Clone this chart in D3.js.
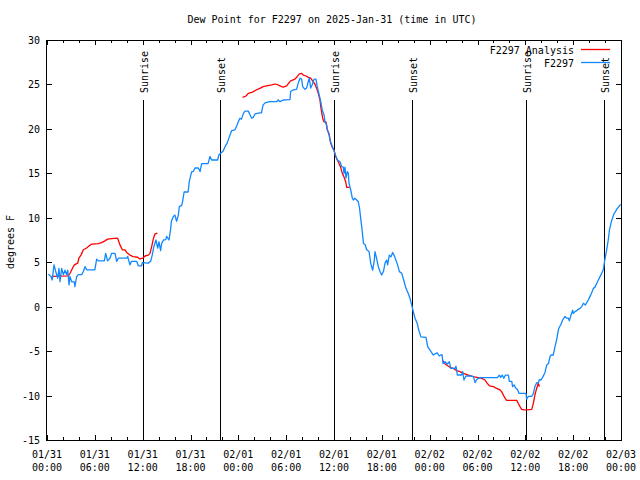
<!DOCTYPE html>
<html>
<head>
<meta charset="utf-8">
<script src="https://cdn.jsdelivr.net/npm/d3@7/dist/d3.min.js"></script>
<style>
  html, body { margin: 0; padding: 0; background: #fff; }
  svg { display: block; }
  text { font-family: "DejaVu Sans Mono", "Liberation Mono", monospace; font-size: 10px; fill: #000; }
</style>
</head>
<body>
<svg id="chart" width="640" height="480"></svg>
<script>
// ---- data (hours since 2025-01-31 00:00 UTC, dew point in degrees F) ----
const startTime = Date.UTC(2025, 0, 31, 0, 0);
const endHours = 72;

const stationHours = [0.17,0.5,0.65,0.88,1.1,1.34,1.5,1.63,1.84,2.05,2.26,2.47,2.6,2.76,2.88,3.09,3.43,3.5,3.72,3.93,4.35,4.56,4.77,4.98,6.0,6.23,6.44,7.19,7.36,7.6,7.9,8.1,8.53,8.74,8.95,10.0,10.12,10.4,10.6,11.25,11.45,11.87,11.95,12.7,13.0,13.2,13.4,13.67,13.88,14.05,14.25,14.38,14.6,14.9,15.0,15.3,15.5,15.6,15.85,16.05,16.26,16.47,16.6,16.9,17.0,17.2,17.7,17.85,18.15,18.35,18.56,18.98,19.2,19.4,20.2,20.45,20.65,21.4,21.57,21.9,22.1,22.33,22.6,22.87,23.16,23.58,23.79,24.0,24.2,24.4,24.63,24.84,25.25,25.46,25.67,25.88,26.1,26.7,26.9,27.1,27.4,27.97,28.8,29.0,29.23,29.64,30.48,30.56,30.9,31.3,31.5,31.73,31.94,32.07,32.36,32.57,32.7,32.9,33.07,33.28,33.5,33.74,33.9,34.1,34.33,34.53,34.74,34.87,35.08,35.16,35.37,35.5,35.7,35.9,36.04,36.25,36.42,36.75,36.96,37.17,37.25,37.38,37.5,37.67,37.8,37.88,38.1,38.3,38.43,38.6,38.84,39.05,39.2,39.35,39.5,39.7,39.9,40.1,40.4,40.6,40.85,41.06,41.14,41.35,41.56,41.77,41.98,42.2,42.4,42.6,42.73,42.94,43.15,43.36,43.53,43.7,43.98,44.2,44.5,44.8,45.03,45.3,45.53,45.74,45.95,46.16,46.45,46.62,46.9,47.54,47.75,48.04,48.46,48.79,48.96,49.2,49.4,49.55,49.68,49.92,50.2,50.47,50.64,51.18,51.3,51.47,52.0,52.14,52.3,52.56,53.15,53.48,53.7,53.9,54.3,56.5,56.74,56.9,57.1,57.3,57.5,57.87,58.0,58.3,58.4,58.6,58.7,58.83,59.0,59.2,60.08,60.17,60.38,60.8,61.0,61.2,61.42,61.63,61.76,61.97,62.2,62.47,62.68,62.9,63.1,63.22,63.5,63.72,63.93,64.14,64.27,64.43,64.68,64.97,65.18,65.4,65.52,65.73,65.94,66.02,66.23,66.44,66.65,66.86,67.07,67.28,67.53,67.7,67.9,68.1,68.3,68.53,68.74,68.95,69.16,69.37,69.58,69.8,69.9,70.08,70.2,70.4,70.55,70.8,71.1,71.5,71.95];
const stationValues = [3.65,3.4,3.0,4.7,3.95,3.2,4.3,2.8,4.3,3.6,4.1,3.6,4.1,2.45,3.4,2.8,2.8,2.25,3.4,3.6,3.6,3.95,4.5,4.15,4.15,5.35,5.15,5.15,6.0,5.15,5.45,6.0,6.0,5.1,5.45,5.45,5.65,4.7,5.1,5.1,4.6,4.6,4.95,4.9,5.1,5.8,6.75,7.5,6.6,7.3,6.3,7.1,7.5,7.55,7.9,7.5,8.65,9.6,10.15,10.3,9.6,10.3,11.25,11.4,11.8,12.9,12.9,14.1,15.2,15.2,15.6,15.6,15.2,16.1,16.1,16.9,16.5,16.5,17.1,17.35,17.5,18.0,18.4,19.1,19.8,19.9,20.33,20.8,21.2,21.1,21.75,22.0,22.0,21.6,21.2,21.3,21.7,21.8,21.8,22.7,22.95,23.06,23.06,23.25,23.06,23.25,23.3,24.2,24.4,24.45,25.1,25.7,25.6,24.75,24.45,24.6,25.1,25.7,24.6,25.0,25.6,25.6,24.75,24.0,23.1,22.1,21.6,20.8,20.4,19.9,19.5,18.75,18.2,17.8,17.44,16.9,16.5,16.3,15.75,15.7,15.0,15.7,14.45,15.2,15.0,13.9,13.1,12.2,12.0,12.2,12.0,11.8,11.1,9.94,8.8,7.1,7.0,6.4,6.2,4.9,4.1,5.25,6.2,5.4,4.5,3.95,3.56,3.95,4.9,5.25,4.7,5.8,5.6,6.1,5.8,5.4,4.7,3.94,3.75,2.8,2.06,1.5,0.94,0.2,-0.56,-1.3,-1.9,-2.6,-3.4,-3.45,-4.5,-4.9,-5.44,-5.25,-5.2,-5.55,-5.44,-5.4,-6.4,-6.2,-6.45,-6.2,-6.94,-6.94,-6.7,-7.69,-7.69,-7.3,-8.25,-7.8,-7.8,-7.87,-8.55,-8.2,-7.98,-7.98,-7.7,-7.95,-7.7,-8.06,-7.7,-7.7,-8.4,-8.4,-9.0,-8.8,-9.0,-9.2,-9.3,-9.75,-9.75,-10.4,-10.1,-10.1,-9.8,-9.0,-8.55,-8.6,-8.2,-8.25,-7.9,-7.4,-6.56,-6.4,-5.6,-5.44,-5.44,-4.5,-3.7,-2.6,-2.3,-2.06,-1.5,-1.1,-1.3,-1.3,-1.6,-0.94,-0.4,-0.75,-0.56,-0.45,-0.3,-0.19,0.0,0.38,0.19,0.45,0.75,1.13,1.5,2.06,2.2,2.6,3.0,3.38,3.75,4.2,4.9,5.8,6.4,7.5,8.6,9.6,10.4,11.0,11.5];

// analysis series: null marks a gap between runs
const analysisHours = [0.59,2.68,2.9,3.18,3.43,3.85,4.0,4.26,4.56,4.97,5.18,5.52,6.0,6.44,6.86,7.27,7.6,8.1,8.86,9.15,9.45,9.78,10.0,10.4,10.8,11.37,11.66,12.0,12.3,12.7,12.92,13.13,13.33,13.55,13.84,
  19.0,
  24.54,24.96,25.25,25.67,25.88,26.3,26.7,27.1,27.55,28.2,28.6,29.0,29.43,29.64,30.06,30.27,30.56,31.1,31.4,31.65,31.94,32.15,32.5,32.78,33.07,33.4,33.6,33.82,34.03,34.24,34.37,34.58,34.74,35.0,35.16,35.4,35.58,35.8,36.0,36.2,36.42,36.63,36.83,37.04,37.25,37.46,37.6,37.95,
  44.0,
  49.6,49.93,50.55,50.97,51.4,51.8,52.23,52.85,53.48,53.9,54.53,54.94,55.15,55.5,56.0,56.4,56.83,57.03,57.24,57.45,57.66,58.92,59.12,59.33,59.54,59.84,60.25,60.8,61.0,61.2,61.42,61.63,61.76];
const analysisValues = [3.4,3.46,3.76,4.3,4.7,4.9,5.45,5.8,6.4,6.6,6.76,7.0,7.06,7.1,7.2,7.4,7.6,7.66,7.7,6.95,6.4,6.4,6.1,5.8,5.64,5.56,5.37,5.45,5.7,5.8,6.0,6.76,7.6,8.2,8.26,
  null,
  23.55,23.7,24.0,24.1,24.19,24.4,24.56,24.75,24.83,24.94,25.05,24.94,24.75,24.7,24.83,25.1,25.4,25.6,25.9,26.2,26.25,26.06,25.95,25.8,25.7,25.3,25.05,24.56,24.0,23.25,22.3,21.2,20.8,20.8,19.9,19.3,18.4,17.9,17.6,16.9,16.5,16.1,15.7,15.0,14.6,14.06,13.43,13.43,
  null,
  -6.0,-6.45,-6.82,-6.94,-7.2,-7.3,-7.5,-7.69,-7.87,-7.95,-8.06,-8.25,-8.55,-8.9,-9.0,-9.2,-9.37,-9.56,-9.94,-10.3,-10.54,-10.54,-10.9,-11.25,-11.55,-11.6,-11.6,-11.55,-10.9,-9.94,-9.2,-8.6,-9.0];

const sunLabels = ["Sunrise","Sunset","Sunrise","Sunset","Sunrise","Sunset"];
const sunHours = [12.07, 21.75, 36.04, 45.82, 60.1, 69.9];

const yTicks = [-15,-10,-5,0,5,10,15,20,25,30];
const xMajorHours = [0,6,12,18,24,30,36,42,48,54,60,66,72];
const xMinorHours = [2,4,8,10,14,16,20,22,26,28,32,34,38,40,44,46,50,52,56,58,62,64,68,70];
const seriesNames = ["F2297 Analysis", "F2297"];
const seriesColors = ["#ff0000", "#1188ff"];
const titleText = "Dew Point for F2297 on 2025-Jan-31 (time in UTC)";
const yLabel = "degrees F";

// ---- layout ----
const L = 47, R = 621, T = 40, B = 440;
const toDate = h => new Date(startTime + h * 3600 * 1000);

const x = d3.scaleUtc().domain([toDate(0), toDate(endHours)]).range([L, R]);
const y = d3.scaleLinear().domain([-15, 30]).range([B, T]);

const svg = d3.select("#chart");

// clip
svg.append("defs").append("clipPath").attr("id", "clip")
  .append("rect").attr("x", L).attr("y", T).attr("width", R - L).attr("height", B - T);

// axes (ticks inward, mirrored)
const fmtDay = d3.utcFormat("%m/%d"), fmtHM = d3.utcFormat("%H:%M");
function tickAxes() {
  const g = svg.append("g").attr("shape-rendering", "crispEdges");
  const bottomMajor = d3.axisBottom(x).tickValues(xMajorHours.map(toDate)).tickSize(-5).tickFormat("");
  const bottomMinor = d3.axisBottom(x).tickValues(xMinorHours.map(toDate)).tickSize(-3).tickFormat("");
  const topMajor = d3.axisTop(x).tickValues(xMajorHours.map(toDate)).tickSize(-5).tickFormat("");
  const topMinor = d3.axisTop(x).tickValues(xMinorHours.map(toDate)).tickSize(-3).tickFormat("");
  const leftAx = d3.axisLeft(y).tickValues(yTicks).tickSize(-5).tickFormat("");
  const rightAx = d3.axisRight(y).tickValues(yTicks).tickSize(-5).tickFormat("");
  [[bottomMajor, `translate(0,${B})`], [bottomMinor, `translate(0,${B})`],
   [topMajor, `translate(0,${T})`], [topMinor, `translate(0,${T})`],
   [leftAx, `translate(${L},0)`], [rightAx, `translate(${R},0)`]].forEach(([ax, tr]) => {
    const a = g.append("g").attr("transform", tr).call(ax);
    a.select(".domain").remove();
    a.selectAll("line").attr("stroke", "#000");
  });
}
tickAxes();

// y tick labels
svg.append("g").selectAll("text").data(yTicks).join("text")
  .attr("x", 40).attr("y", d => y(d) + 4)
  .attr("text-anchor", "end").text(d => d);

// x tick labels (two lines)
const xl = svg.append("g").selectAll("text").data(xMajorHours).join("text")
  .attr("text-anchor", "middle");
xl.append("tspan").attr("x", h => x(toDate(h))).attr("y", 458).text(h => fmtDay(toDate(h)));
xl.append("tspan").attr("x", h => x(toDate(h))).attr("y", 471).text(h => fmtHM(toDate(h)));

// title and y label
svg.append("text").attr("x", 332).attr("y", 23).attr("text-anchor", "middle").text(titleText);
svg.append("text").attr("transform", "translate(14,242) rotate(-90)").attr("text-anchor", "middle").text(yLabel);

// sunrise / sunset markers
const sun = svg.append("g");
sunHours.forEach((h, i) => {
  const sx = Math.round(x(toDate(h))) + 0.5;
  sun.append("line").attr("x1", sx).attr("x2", sx).attr("y1", 100).attr("y2", B)
    .attr("stroke", "#000").attr("stroke-width", 1).attr("shape-rendering", "crispEdges");
  sun.append("text").attr("transform", `translate(${sx + 4.5},93) rotate(-90)`)
    .attr("text-anchor", "start").text(sunLabels[i]);
});

// series
const stationData = stationHours.map((h, i) => ({ t: toDate(h), v: stationValues[i] }));
const analysisData = analysisHours.map((h, i) => ({ t: toDate(h), v: analysisValues[i] }));
const line = d3.line().defined(d => d.v !== null).x(d => x(d.t)).y(d => y(d.v));

const plot = svg.append("g").attr("clip-path", "url(#clip)");
plot.append("path").datum(analysisData).attr("d", line)
  .attr("fill", "none").attr("stroke", seriesColors[0]).attr("stroke-width", 1.3).attr("stroke-linejoin", "round");
plot.append("path").datum(stationData).attr("d", line)
  .attr("fill", "none").attr("stroke", seriesColors[1]).attr("stroke-width", 1.3).attr("stroke-linejoin", "round");

// legend
const legend = svg.append("g");
seriesNames.forEach((name, i) => {
  const ly = 49.5 + i * 13;
  legend.append("text").attr("x", 574).attr("y", ly + 4).attr("text-anchor", "end").text(name);
  legend.append("line").attr("x1", 581).attr("x2", 610).attr("y1", ly).attr("y2", ly)
    .attr("stroke", seriesColors[i]).attr("stroke-width", 1.3);
});

// frame
svg.append("rect").attr("x", L - 0.5).attr("y", T + 0.5).attr("width", R - L + 1).attr("height", B - T)
  .attr("fill", "none").attr("stroke", "#000").attr("stroke-width", 1).attr("shape-rendering", "crispEdges");
</script>
</body>
</html>
